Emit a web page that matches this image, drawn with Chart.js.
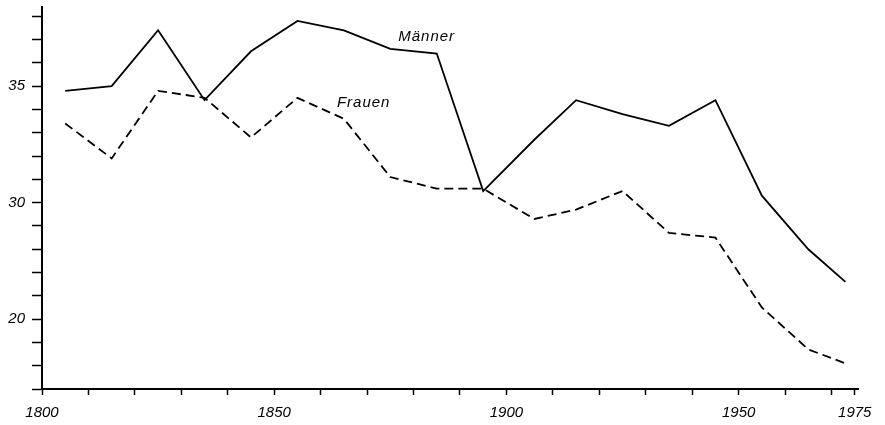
<!DOCTYPE html>
<html>
<head>
<meta charset="utf-8">
<script src="https://cdn.jsdelivr.net/npm/chart.js@4.4.1/dist/chart.umd.min.js"></script>
<style>
  html, body { margin: 0; padding: 0; background: #fff; }
  #wrap { width: 885px; height: 425px; position: relative; }
</style>
</head>
<body>
<div id="wrap"><canvas id="chart"></canvas></div>
<script>
// Jahre (Mittelpunkte der Jahrzehnte)
var years   = [1805, 1815, 1825, 1835, 1845, 1855, 1865, 1875, 1885, 1895, 1906, 1915, 1925, 1935, 1945, 1955, 1965, 1973];
var maenner = [34.8, 35.0, 37.4, 34.4, 36.5, 37.8, 37.4, 36.6, 36.4, 30.5, 32.7, 34.4, 33.8, 33.3, 34.4, 30.3, 28.0, 26.6];
var frauen  = [33.4, 31.9, 34.8, 34.5, 32.8, 34.5, 33.6, 31.1, 30.6, 30.6, 29.3, 29.7, 30.5, 28.7, 28.5, 25.5, 23.7, 23.1];

var xLabelYears = [1800, 1850, 1900, 1950, 1975];
var yLabelValues = [35, 30, 25];
var yLabelTexts  = ['35', '30', '20'];

// Beschriftung der Kurven
var seriesLabels = [
  { text: 'Männer', x: 1876.7, y: 37.1 },
  { text: 'Frauen', x: 1863.5, y: 34.3 }
];

var tickFont = { family: 'Liberation Sans', size: 15, style: 'italic' };

function toPoints(vals) {
  return vals.map(function(v, i) { return { x: years[i], y: v }; });
}

var labelPlugin = {
  id: 'seriesLabels',
  afterDatasetsDraw: function(chart) {
    var ctx = chart.ctx;
    var xs = chart.scales.x, ys = chart.scales.y;
    ctx.save();
    ctx.font = 'italic 15px "Liberation Sans"';
    ctx.letterSpacing = '1px';
    ctx.fillStyle = '#000';
    ctx.textBaseline = 'middle';
    ctx.textAlign = 'left';
    seriesLabels.forEach(function(l) {
      ctx.fillText(l.text, xs.getPixelForValue(l.x), ys.getPixelForValue(l.y));
    });
    ctx.restore();
  }
};

var ctx = document.getElementById('chart').getContext('2d');
new Chart(ctx, {
  type: 'line',
  data: {
    datasets: [{
      label: 'Männer',
      data: toPoints(maenner),
      borderColor: '#000',
      borderWidth: 1.8,
      pointRadius: 0,
      tension: 0
    }, {
      label: 'Frauen',
      data: toPoints(frauen),
      borderColor: '#000',
      borderWidth: 1.8,
      borderDash: [9, 5],
      pointRadius: 0,
      tension: 0
    }]
  },
  options: {
    responsive: true,
    maintainAspectRatio: false,
    animation: false,
    layout: { padding: { top: 7, right: 27, left: 0, bottom: 0 } },
    plugins: {
      legend: { display: false },
      tooltip: { enabled: false }
    },
    scales: {
      x: {
        type: 'linear',
        min: 1800,
        max: 1975.7,
        afterFit: function(scale) {
          scale.height = 36;
          scale.paddingLeft = 0;
          scale.paddingRight = 0;
        },
        afterBuildTicks: function(scale) {
          var t = [];
          for (var v = 1800; v <= 1970; v += 10) t.push({ value: v });
          t.push({ value: 1975 });
          scale.ticks = t;
        },
        border: { display: true, color: '#000', width: 2 },
        grid: { drawOnChartArea: false, tickLength: 6, tickColor: '#000', tickWidth: 1.5 },
        ticks: {
          color: '#000',
          font: tickFont,
          padding: 9,
          maxRotation: 0,
          autoSkip: false,
          callback: function(v) {
            return xLabelYears.indexOf(v) >= 0 ? String(v) : '';
          }
        }
      },
      y: {
        min: 22,
        max: 38.4,
        afterFit: function(scale) {
          scale.width = 42;
          scale.paddingTop = 0;
          scale.paddingBottom = 0;
        },
        afterBuildTicks: function(scale) {
          var t = [];
          for (var v = 22; v <= 38; v++) t.push({ value: v });
          scale.ticks = t;
        },
        border: { display: true, color: '#000', width: 2 },
        grid: { drawOnChartArea: false, tickLength: 10, tickColor: '#000', tickWidth: 1.5 },
        ticks: {
          color: '#000',
          font: tickFont,
          padding: 7,
          autoSkip: false,
          callback: function(v) {
            var i = yLabelValues.indexOf(v);
            return i >= 0 ? yLabelTexts[i] : '';
          }
        }
      }
    }
  },
  plugins: [labelPlugin]
});
</script>
</body>
</html>
